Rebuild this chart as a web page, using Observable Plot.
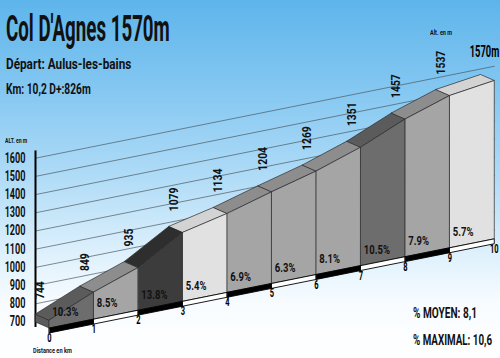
<!DOCTYPE html>
<html><head><meta charset="utf-8">
<script src="https://cdn.jsdelivr.net/npm/d3@7"></script>
<script src="https://cdn.jsdelivr.net/npm/@observablehq/plot@0.6"></script>
<style>
html,body{margin:0;padding:0;background:#fff;}
#wrap{position:relative;width:500px;height:358px;overflow:hidden;
 background:linear-gradient(180deg,#5eb5eb 0%,#84c7f1 25%,#b1dcf7 50%,#dcf0fc 70%,#f8fcff 85%,#ffffff 100%);
 font-family:Roboto,"DejaVu Sans",sans-serif;}
#chart{position:absolute;left:0;top:0;}
#chart svg text{font-family:Roboto,"DejaVu Sans",sans-serif;font-weight:700;}
.t{position:absolute;white-space:nowrap;transform-origin:0 0;color:#111;font-weight:700;line-height:normal;}
</style></head><body>
<div id="wrap">
  <div id="chart"></div>
  <div class="t" style="left:6px;top:8px;font-size:36px;transform:scaleX(0.52)">Col D'Agnes 1570m</div>
  <div class="t" style="left:6px;top:56px;font-size:14px;transform:scaleX(0.84)">Départ: Aulus-les-bains</div>
  <div class="t" style="left:6px;top:80px;font-size:15px;transform:scaleX(0.68)">Km: 10,2 D+:826m</div>
  <div class="t" style="left:5px;top:136px;font-size:8px;transform:scaleX(0.64)">ALT. en m</div>
  <div class="t" style="left:430px;top:29px;font-size:7px;transform:scaleX(0.78)">Alt. en m</div>
  <div class="t" style="left:33px;top:346px;font-size:8px;transform:scaleX(0.7)">Distance en km</div>
  <div class="t" style="left:413px;top:305px;font-size:14px;transform:scaleX(0.72)">% MOYEN: 8,1</div>
  <div class="t" style="left:413px;top:332px;font-size:14px;transform:scaleX(0.70)">% MAXIMAL: 10,6</div>
</div>
<script>
// ---- data ----
const km = [0,1,2,3,4,5,6,7,8,9,10];
const altitudes = [744,849,935,1079,1134,1204,1269,1351,1457,1537,1570];
const grades = [10.3,8.5,13.8,5.4,6.9,6.3,8.1,10.5,7.9,5.7];
const altTicks = [700,800,900,1000,1100,1200,1300,1400,1500,1600];
const summitLabel = "1570m";
const baseAlt = 700;

// ---- view (perspective) constants ----
const SKEW = 49;      // apparent rise (m) per km of the slanted base
const DX = 0.31;      // depth offset of the front plane (km)
const DY = -33;       // depth offset of the front plane (m)
const BAR = 27;       // thickness of the km bar (m)
const GRID_END = 10.32;
const AXIS_EXTENT = [670, 1640];

const gradeBreaks = [6, 10, 12];
const frontColor = d3.scaleThreshold(gradeBreaks, ["#e1e1e1","#a5a5a5","#6d6d6d","#3c3c3c"]);
const topColor   = d3.scaleThreshold(gradeBreaks, ["#d3d3d3","#8d8d8d","#5b5b5b","#2e2e2e"]);

const back  = (k,a) => ({x:k, y:a + SKEW*k});
const front = (k,a) => ({x:k + DX, y:a + SKEW*k + DY});

const topFaces = [], frontFaces = [], barFaces = [];
grades.forEach((g,i) => {
  const a0 = altitudes[i], a1 = altitudes[i+1];
  [back(i,a0), back(i+1,a1), front(i+1,a1), front(i,a0)]
    .forEach(p => topFaces.push({...p, seg:i, fill: topColor(g)}));
  [front(i,a0), front(i+1,a1), front(i+1,baseAlt), front(i,baseAlt)]
    .forEach(p => frontFaces.push({...p, seg:i, fill: frontColor(g)}));
  [front(i,baseAlt), front(i+1,baseAlt), front(i+1,baseAlt-BAR), front(i,baseAlt-BAR)]
    .forEach(p => barFaces.push({...p, seg:i, fill: i % 2 ? "#ffffff" : "#000000"}));
});
const sideFace = [back(0,altitudes[0]), front(0,altitudes[0]), front(0,baseAlt), back(0,baseAlt)]
  .map(p => ({...p, seg:0, fill: topColor(grades[0])}));

const polys = (data, opts = {}) => Plot.line(data, {
  x:"x", y:"y", z:"seg", fill:"fill", stroke:"#2b2b2b", strokeWidth:0.7,
  curve:"linear-closed", ...opts
});

const chart = Plot.plot({
  width: 500, height: 358,
  marginLeft: 35, marginTop: 0, marginRight: 0, marginBottom: 0,
  style: {background: "none", overflow: "visible"},
  x: {domain: [0, 10], range: [35, 480], axis: null},
  y: {domain: [700, 1600], range: [321.5, 157.7], axis: null},
  color: {type: "identity"},
  marks: [
    Plot.link(altTicks, {x1: () => 0, y1: d => d, x2: () => GRID_END, y2: d => d + SKEW*GRID_END,
      stroke: "#4a555c", strokeWidth: 0.8, strokeOpacity: 0.85}),
    Plot.axisY({ticks: altTicks, tickFormat: d => String(d), tickSize: 0, tickPadding: 10,
      label: null, fontSize: 14, fill: "#111"}),
    Plot.ruleX([0], {y1: AXIS_EXTENT[0], y2: AXIS_EXTENT[1], stroke: "#000", strokeWidth: 2}),
    polys(sideFace),
    polys(topFaces),
    polys(frontFaces),
    polys(barFaces, {stroke: "#000", strokeWidth: 0.9}),
    // text marks (order matters for condensing below)
    Plot.text(altitudes.slice(0, 10), {
      x: (d,i) => km[i], y: (d,i) => d + SKEW*km[i], text: d => String(d),
      rotate: -90, textAnchor: "start", dx: 5, dy: -15, fontSize: 12, fill: "#111"}),
    Plot.text([summitLabel], {
      x: () => km[10], y: () => altitudes[10] + SKEW*km[10], text: d => d,
      dx: 4, dy: -23, fontSize: 17, fill: "#000"}),
    Plot.text(grades, {
      x: (d,i) => i + DX, y: (d,i) => baseAlt + SKEW*(i + 0.35) + DY,
      text: d => d.toFixed(1) + "%", textAnchor: "start", dx: 3, dy: -12.5,
      fontSize: 12.5, fill: "#111"}),
    Plot.text(km, {
      x: d => d + DX, y: d => baseAlt + SKEW*d + DY, text: d => String(d),
      dy: 10, fontSize: 12.5, fill: "#000"})
  ]
});

// horizontally condense text glyphs around their anchor
function condenseTexts(texts, s) {
  texts.forEach(t => {
    const tr = t.getAttribute("transform");
    if (tr != null) t.setAttribute("transform", tr + ` scale(${s},1)`);
  });
}
condenseTexts(chart.querySelectorAll('g[aria-label^="y-axis"] text'), 0.65);
const textGroups = chart.querySelectorAll('g[aria-label="text"]');
[0.86, 0.55, 0.76, 0.6].forEach((s, i) => {
  if (textGroups[i]) condenseTexts(textGroups[i].querySelectorAll("text"), s);
});

document.getElementById("chart").appendChild(chart);
</script>
</body></html>
